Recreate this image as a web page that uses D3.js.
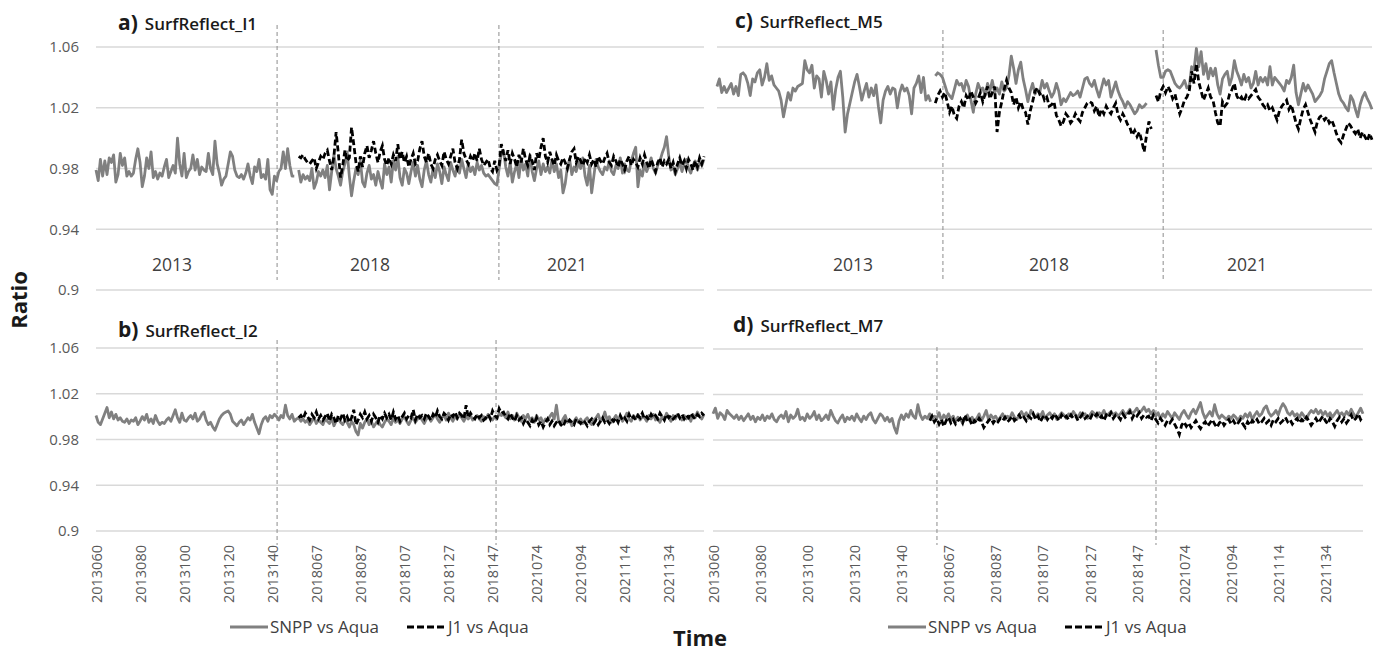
<!DOCTYPE html>
<html>
<head>
<meta charset="utf-8">
<script src="https://d3js.org/d3.v7.min.js"></script>
<style>
body { margin: 0; background: #fff; }
svg { display: block; font-family: "Open Sans", Lato, sans-serif; }
</style>
</head>
<body>
<div id="chart"></div>
<script>
// categories are year + day of year (2013060 ...), one per day in each campaign
var years = [2013, 2018, 2021];
var firstDay = [60, 59, 59];
var lastDay = [151, 151, 150];
var categories = [];
for (var k = 0; k < years.length; k++) {
    for (var day = firstDay[k]; day <= lastDay[k]; day++) {
        categories.push(years[k] + ("00" + day).slice(-3));
    }
}
var yTicks = [0.9, 0.94, 0.98, 1.02, 1.06];
var labelEvery = 20;
var yearLabels = ["2013", "2018", "2021"];
var seriesNames = ["SNPP vs Aqua", "J1 vs Aqua"];

// a) SurfReflect_I1
var a_snpp_2013 = [
0.979, 0.972, 0.986, 0.975, 0.985, 0.976, 0.987, 0.984, 0.989, 0.971,
0.976, 0.990, 0.982, 0.987, 0.975, 0.978, 0.975, 0.977, 0.986, 0.993,
0.984, 0.968, 0.975, 0.987, 0.980, 0.991, 0.974, 0.978, 0.973, 0.977,
0.975, 0.981, 0.986, 0.974, 0.978, 0.982, 0.977, 1.000, 0.983, 0.975,
0.990, 0.974, 0.978, 0.980, 0.989, 0.979, 0.986, 0.976, 0.981, 0.979,
0.978, 0.990, 0.980, 0.976, 0.998, 0.983, 0.977, 0.969, 0.973, 0.975,
0.983, 0.991, 0.988, 0.979, 0.975, 0.974, 0.976, 0.973, 0.977, 0.983,
0.975, 0.970, 0.981, 0.978, 0.986, 0.974, 0.976, 0.973, 0.986, 0.966,
0.963, 0.975, 0.972, 0.978, 0.980, 0.991, 0.980, 0.993, 0.982, 0.975,
0.975, null];
var a_snpp_2018 = [
0.979, 0.971, 0.976, 0.973, 0.975, 0.972, 0.980, 0.967, 0.971, 0.978,
0.975, 0.979, 0.974, 0.982, 0.966, 0.978, 0.989, 0.980, 0.975, 0.969,
0.978, 0.983, 0.991, 0.975, 0.962, 0.972, 0.980, 0.976, 0.985, 0.971,
0.968, 0.977, 0.982, 0.973, 0.976, 0.969, 0.978, 0.972, 0.967, 0.983,
0.976, 0.981, 0.971, 0.985, 0.979, 0.988, 0.974, 0.969, 0.980, 0.977,
0.970, 0.978, 0.984, 0.975, 0.982, 0.973, 0.968, 0.979, 0.985, 0.976,
0.971, 0.980, 0.974, 0.983, 0.978, 0.970, 0.981, 0.976, 0.972, 0.984,
0.979, 0.975, 0.982, 0.977, 0.986, 0.980, 0.974, 0.983, 0.978, 0.981,
0.976, 0.984, 0.979, 0.982, 0.977, 0.975, 0.976, 0.974, 0.972, 0.970,
0.969, 0.980, 0.990];
var a_snpp_2021 = [
0.992, 0.981, 0.975, 0.984, 0.971, 0.978, 0.983, 0.974, 0.987, 0.979,
0.983, 0.975, 0.989, 0.978, 0.972, 0.980, 0.985, 0.976, 0.983, 0.978,
0.981, 0.977, 0.986, 0.978, 0.983, 0.974, 0.979, 0.964, 0.970, 0.981,
0.986, 0.976, 0.981, 0.978, 0.984, 0.980, 0.987, 0.975, 0.969, 0.982,
0.964, 0.975, 0.986, 0.981, 0.978, 0.976, 0.981, 0.979, 0.985, 0.978,
0.976, 0.982, 0.980, 0.987, 0.977, 0.983, 0.979, 0.978, 0.985, 0.990,
0.994, 0.968, 0.979, 0.975, 0.983, 0.978, 0.982, 0.987, 0.980, 0.977,
0.982, 0.985, 0.990, 0.994, 1.001, 0.988, 0.979, 0.981, 0.976, 0.980,
0.984, 0.978, 0.983, 0.986, 0.980, 0.977, 0.982, 0.985, 0.979, 0.984,
0.982, 0.986];
var a_j1_2018 = [
0.988, 0.987, 0.989, 0.986, 0.984, 0.983, 0.985, 0.987, 0.980, 0.984,
0.988, 0.986, 0.990, 0.992, 0.985, 0.979, 0.988, 1.004, 0.990, 0.974,
0.982, 0.992, 0.985, 0.987, 1.007, 0.996, 0.984, 0.978, 0.988, 0.981,
0.990, 0.995, 0.987, 0.992, 0.998, 0.990, 0.984, 0.991, 0.995, 0.986,
0.982, 0.987, 0.983, 0.989, 0.985, 0.996, 0.986, 0.991, 0.984, 0.988,
0.981, 0.986, 0.990, 0.983, 0.985, 0.993, 0.998, 0.988, 0.984, 0.990,
0.983, 0.980, 0.986, 0.989, 0.985, 0.982, 0.991, 0.986, 0.983, 0.988,
0.993, 0.984, 0.980, 0.986, 0.999, 0.990, 0.986, 0.983, 0.988, 0.985,
0.990, 0.985, 0.993, 0.986, 0.982, 0.984, 0.986, 0.980, 0.978, 0.985,
0.979, 0.982, 0.996];
var a_j1_2021 = [
0.990, 0.985, 0.992, 0.983, 0.990, 0.986, 0.981, 0.989, 0.984, 0.993,
0.986, 0.982, 0.988, 0.985, 0.979, 0.990, 0.986, 0.994, 1.000, 0.988,
0.984, 0.991, 0.986, 0.982, 0.989, 0.985, 0.983, 0.987, 0.984, 0.980,
0.986, 0.991, 0.993, 0.984, 0.988, 0.985, 0.982, 0.987, 0.984, 0.989,
0.983, 0.986, 0.981, 0.988, 0.985, 0.983, 0.987, 0.990, 0.984, 0.982,
0.988, 0.985, 0.981, 0.986, 0.983, 0.979, 0.985, 0.988, 0.982, 0.986,
0.984, 0.981, 0.987, 0.983, 0.989, 0.984, 0.980, 0.986, 0.982, 0.978,
0.984, 0.987, 0.981, 0.985, 0.983, 0.986, 0.980, 0.984, 0.978, 0.983,
0.987, 0.982, 0.985, 0.980, 0.986, 0.983, 0.979, 0.985, 0.981, 0.987,
0.983, 0.988];

// b) SurfReflect_I2
var b_snpp_2013 = [
1.001, 0.995, 0.993, 0.998, 1.003, 1.008, 0.999, 1.004, 0.998, 1.002,
0.997, 0.999, 0.996, 0.995, 0.998, 0.994, 0.997, 0.996, 0.999, 0.993,
0.996, 1.000, 0.997, 1.002, 0.995, 0.998, 0.994, 1.001, 0.996, 0.993,
0.995, 0.994, 0.997, 0.999, 0.996, 1.001, 1.006, 0.999, 0.995, 1.003,
0.997, 0.996, 0.999, 1.001, 0.998, 1.003, 0.996, 0.998, 1.002, 1.004,
0.997, 0.993, 0.995, 0.991, 0.988, 0.993, 0.998, 1.001, 1.003, 1.004,
1.005, 1.002, 0.996, 0.994, 0.992, 0.995, 0.997, 0.993, 0.996, 0.999,
0.997, 1.002, 0.995, 0.990, 0.985, 0.993, 0.998, 1.000, 0.996, 1.001,
0.999, 1.002, 1.000, 0.997, 1.001, 0.999, 1.010, 1.001, 0.998, 1.002,
0.996, 0.998];
var b_snpp_2018 = [
0.999, 0.996, 0.998, 0.995, 0.997, 0.993, 0.996, 0.999, 0.994, 0.997,
0.995, 0.993, 0.998, 0.996, 0.994, 0.999, 0.992, 0.996, 0.998, 0.995,
0.993, 0.997, 0.995, 0.991, 0.996, 0.993, 0.987, 0.984, 0.994, 0.990,
0.995, 0.998, 0.993, 0.996, 0.991, 0.994, 0.997, 0.993, 0.991, 0.995,
0.998, 0.996, 0.993, 0.999, 0.995, 0.997, 0.994, 0.998, 1.000, 0.996,
0.993, 0.997, 0.999, 0.995, 0.998, 1.001, 0.997, 0.994, 0.998, 1.000,
0.996, 0.999, 1.002, 0.998, 0.995, 0.999, 1.001, 0.997, 1.003, 0.999,
0.996, 1.000, 0.998, 1.002, 0.999, 0.996, 1.000, 0.998, 1.001, 0.997,
0.999, 1.001, 0.998, 0.996, 1.000, 0.998, 1.002, 0.999, 0.997, 1.000,
0.998, 1.003, 1.001];
var b_snpp_2021 = [
1.002, 0.999, 1.004, 0.998, 1.001, 0.997, 1.003, 0.999, 0.996, 1.001,
0.998, 1.002, 0.997, 0.999, 0.995, 1.001, 0.997, 0.999, 0.994, 0.998,
0.996, 1.000, 1.003, 0.998, 1.010, 0.996, 0.993, 0.998, 1.001, 0.995,
0.997, 0.992, 0.996, 0.999, 0.995, 0.998, 0.994, 0.997, 0.999, 0.995,
0.993, 0.997, 0.999, 1.002, 0.996, 0.998, 1.004, 0.997, 1.000, 0.995,
0.998, 1.001, 0.997, 1.000, 0.996, 0.999, 1.003, 0.998, 0.996, 1.001,
0.998, 1.002, 0.997, 1.000, 0.999, 0.996, 1.001, 0.998, 1.002, 0.997,
0.999, 0.995, 1.000, 0.998, 1.003, 0.999, 0.996, 1.001, 0.998, 1.002,
0.999, 0.997, 1.001, 0.998, 1.000, 0.996, 1.002, 0.999, 1.004, 1.000,
0.998, 1.002];
var b_j1_2018 = [
0.999, 1.001, 0.998, 1.003, 1.000, 0.997, 1.002, 0.999, 1.004, 0.998,
1.001, 0.997, 1.000, 1.003, 0.996, 1.002, 0.999, 0.994, 1.001, 0.998,
1.003, 0.997, 1.000, 0.995, 0.999, 1.006, 0.993, 0.997, 1.002, 0.999,
1.004, 0.998, 1.001, 0.996, 1.002, 0.999, 0.995, 1.001, 0.998, 1.003,
0.999, 1.002, 0.997, 1.004, 0.998, 1.001, 0.996, 1.000, 1.003, 0.998,
1.001, 0.999, 1.006, 0.997, 1.002, 0.999, 1.001, 0.998, 1.003, 1.000,
0.997, 1.002, 0.999, 1.005, 1.000, 0.998, 1.003, 1.001, 0.997, 1.002,
1.000, 1.004, 0.999, 1.003, 1.001, 0.998, 1.010, 0.999, 1.003, 1.000,
0.998, 1.002, 0.999, 1.001, 0.997, 0.999, 1.002, 0.998, 1.005, 1.001,
0.999, 1.007, 1.003];
var b_j1_2021 = [
1.004, 1.000, 0.998, 1.003, 0.999, 0.996, 1.001, 0.997, 0.999, 0.994,
0.998, 0.995, 0.992, 0.997, 0.994, 0.999, 0.993, 0.996, 0.991, 0.995,
0.998, 0.993, 0.996, 0.992, 0.995, 0.997, 0.993, 0.991, 0.996, 0.994,
0.997, 0.995, 0.993, 0.998, 0.996, 0.994, 0.997, 0.995, 0.992, 0.996,
0.998, 0.994, 0.997, 0.993, 0.996, 0.999, 0.995, 0.997, 0.994, 0.998,
0.996, 0.999, 0.995, 1.001, 0.997, 0.999, 0.996, 1.002, 0.998, 1.000,
0.997, 1.001, 0.999, 1.003, 0.998, 1.000, 0.997, 1.002, 0.999, 1.001,
0.998, 1.003, 1.000, 0.997, 1.002, 0.999, 1.001, 0.998, 1.000, 1.003,
0.999, 1.002, 0.998, 1.001, 0.999, 1.003, 1.000, 0.998, 1.002, 1.000,
1.003, 1.001];

// c) SurfReflect_M5
var c_snpp_2013 = [
1.034, 1.039, 1.030, 1.034, 1.030, 1.033, 1.036, 1.029, 1.034, 1.028,
1.042, 1.043, 1.041, 1.036, 1.028, 1.039, 1.037, 1.043, 1.045, 1.035,
1.040, 1.049, 1.038, 1.041, 1.035, 1.033, 1.031, 1.025, 1.014, 1.022,
1.030, 1.025, 1.033, 1.031, 1.034, 1.035, 1.036, 1.051, 1.045, 1.043,
1.048, 1.033, 1.041, 1.039, 1.027, 1.044, 1.038, 1.029, 1.037, 1.019,
1.032, 1.040, 1.044, 1.027, 1.004, 1.016, 1.023, 1.030, 1.037, 1.042,
1.034, 1.025, 1.031, 1.036, 1.027, 1.033, 1.028, 1.035, 1.021, 1.010,
1.025, 1.031, 1.034, 1.029, 1.033, 1.032, 1.020, 1.030, 1.035, 1.031,
1.033, 1.028, 1.016, 1.033, 1.036, 1.041, 1.030, 1.040, 1.025, 1.028,
1.024, null];
var c_snpp_2018 = [
1.041, 1.043, 1.042, 1.040, 1.035, 1.030, 1.028, 1.026, 1.032, 1.038,
1.035, 1.036, 1.031, 1.038, 1.034, 1.025, 1.017, 1.029, 1.036, 1.032,
1.033, 1.028, 1.036, 1.031, 1.038, 1.030, 1.033, 1.029, 1.037, 1.031,
1.033, 1.041, 1.054, 1.046, 1.036, 1.045, 1.050, 1.039, 1.032, 1.024,
1.031, 1.036, 1.029, 1.032, 1.030, 1.038, 1.033, 1.036, 1.031, 1.027,
1.030, 1.036, 1.031, 1.022, 1.026, 1.024, 1.027, 1.030, 1.028, 1.029,
1.031, 1.027, 1.033, 1.039, 1.040, 1.036, 1.034, 1.038, 1.032, 1.027,
1.033, 1.039, 1.035, 1.038, 1.027, 1.032, 1.037, 1.031, 1.027, 1.024,
1.020, 1.024, 1.022, 1.019, 1.016, 1.018, 1.022, 1.020, 1.021, 1.023,
null, null, null];
var c_snpp_2021 = [
1.058, 1.048, 1.040, 1.040, 1.044, 1.045, 1.044, 1.040, 1.036, 1.034,
1.033, 1.035, 1.038, 1.033, 1.034, 1.047, 1.045, 1.059, 1.047, 1.057,
1.042, 1.049, 1.039, 1.046, 1.041, 1.046, 1.035, 1.029, 1.039, 1.042,
1.044, 1.035, 1.040, 1.051, 1.044, 1.040, 1.035, 1.042, 1.037, 1.040,
1.033, 1.036, 1.044, 1.035, 1.040, 1.037, 1.040, 1.035, 1.047, 1.035,
1.040, 1.038, 1.036, 1.034, 1.031, 1.038, 1.036, 1.040, 1.048, 1.030,
1.022, 1.029, 1.036, 1.031, 1.035, 1.032, 1.029, 1.024, 1.026, 1.028,
1.031, 1.039, 1.044, 1.049, 1.051, 1.043, 1.036, 1.029, 1.025, 1.023,
1.020, 1.018, 1.028, 1.025, 1.019, 1.014, 1.022, 1.027, 1.030, 1.026,
1.023, 1.019];
var c_j1_2018 = [
1.023, 1.028, 1.031, 1.027, 1.030, 1.024, 1.017, 1.021, 1.015, 1.013,
1.021, 1.024, 1.020, 1.028, 1.025, 1.031, 1.027, 1.023, 1.026, 1.030,
1.024, 1.029, 1.034, 1.026, 1.030, 1.034, 1.004, 1.017, 1.024, 1.032,
1.038, 1.033, 1.030, 1.022, 1.027, 1.020, 1.024, 1.019, 1.017, 1.009,
1.018, 1.024, 1.031, 1.033, 1.029, 1.030, 1.025, 1.027, 1.021, 1.022,
1.024, 1.015, 1.012, 1.008, 1.011, 1.016, 1.014, 1.010, 1.012, 1.016,
1.013, 1.011, 1.017, 1.020, 1.023, 1.024, 1.023, 1.018, 1.021, 1.014,
1.019, 1.016, 1.021, 1.018, 1.016, 1.020, 1.023, 1.015, 1.012, 1.016,
1.013, 1.009, 1.007, 1.002, 1.005, 1.001, 1.004, 0.998, 0.991, 1.002,
1.011, 1.006, null];
var c_j1_2021 = [
1.028, 1.024, 1.031, 1.034, 1.030, 1.034, 1.031, 1.026, 1.029, 1.022,
1.016, 1.020, 1.025, 1.027, 1.031, 1.044, 1.036, 1.049, 1.037, 1.031,
1.025, 1.029, 1.033, 1.027, 1.025, 1.017, 1.010, 1.008, 1.024, 1.021,
1.023, 1.029, 1.032, 1.036, 1.028, 1.025, 1.027, 1.024, 1.028, 1.026,
1.028, 1.030, 1.032, 1.027, 1.025, 1.022, 1.020, 1.022, 1.018, 1.020,
1.016, 1.012, 1.018, 1.021, 1.023, 1.025, 1.019, 1.022, 1.016, 1.010,
1.006, 1.013, 1.019, 1.022, 1.017, 1.012, 1.008, 1.004, 1.011, 1.014,
1.015, 1.012, 1.014, 1.010, 1.012, 1.008, 1.003, 0.999, 0.997, 1.002,
1.006, 1.010, 1.008, 1.005, 1.003, 1.006, 1.000, 1.004, 1.001, 0.998,
1.003, 0.999];

// d) SurfReflect_M7
var d_snpp_2013 = [
1.003, 1.008, 0.999, 1.004, 1.002, 0.998, 1.006, 1.003, 1.001, 0.999,
1.002, 0.998, 1.001, 0.997, 1.000, 1.003, 0.998, 1.001, 0.996, 1.000,
0.998, 1.002, 0.997, 1.001, 0.999, 1.003, 0.998, 0.996, 1.000, 1.002,
0.999, 1.005, 0.996, 1.002, 0.999, 1.001, 1.007, 0.998, 1.000, 0.997,
1.003, 0.999, 1.001, 1.005, 0.998, 1.002, 0.997, 0.999, 1.002, 0.998,
1.006, 1.001, 0.997, 0.995, 0.999, 1.002, 0.996, 1.000, 0.998, 1.001,
0.997, 1.003, 0.999, 0.996, 1.001, 0.998, 1.002, 1.004, 0.998, 0.995,
0.999, 1.003, 1.001, 0.997, 1.000, 0.996, 0.999, 0.991, 0.986, 0.997,
1.002, 0.998, 1.003, 1.000, 1.006, 1.001, 0.999, 1.011, 1.002, 0.998,
1.001, 0.999];
var d_snpp_2018 = [
1.003, 0.998, 1.001, 0.999, 1.004, 0.997, 1.002, 0.999, 1.003, 0.998,
1.001, 0.996, 1.000, 0.998, 0.995, 0.999, 1.002, 0.997, 1.000, 0.996,
0.999, 1.003, 0.997, 1.001, 1.006, 0.998, 1.002, 0.999, 1.001, 0.997,
1.000, 1.003, 0.998, 1.001, 0.999, 1.004, 1.000, 0.998, 1.002, 1.005,
1.001, 1.004, 0.999, 1.006, 1.002, 1.000, 1.003, 1.001, 1.005, 0.999,
1.002, 1.004, 1.000, 1.003, 0.998, 1.001, 1.004, 1.002, 0.999, 1.003,
1.001, 1.005, 1.002, 1.000, 1.004, 1.001, 1.003, 0.999, 1.002, 1.005,
1.003, 1.000, 1.004, 1.002, 1.006, 1.001, 1.003, 1.005, 1.002, 1.004,
1.001, 1.003, 1.006, 1.002, 1.004, 1.007, 1.003, 1.005, 1.008, 1.004,
1.006, 1.009, 1.005];
var d_snpp_2021 = [
1.007, 1.003, 1.006, 1.001, 1.004, 0.999, 1.003, 1.000, 1.005, 1.002,
0.999, 1.004, 1.001, 0.998, 1.003, 1.006, 1.002, 0.999, 1.004, 1.007,
1.003, 1.008, 1.013, 1.004, 0.999, 1.002, 1.005, 1.001, 1.011, 1.003,
0.999, 1.002, 1.000, 0.998, 1.001, 0.999, 1.002, 1.000, 0.997, 1.001,
0.999, 1.003, 1.000, 1.004, 0.998, 1.002, 1.005, 1.001, 1.003, 1.008,
1.010, 1.004, 1.001, 1.003, 1.006, 1.002, 1.008, 1.012, 1.009, 1.004,
1.002, 1.005, 1.001, 1.003, 1.000, 1.004, 1.001, 0.998, 1.003, 1.006,
1.004, 1.007, 1.003, 1.006, 1.002, 1.005, 1.001, 1.004, 1.000, 1.003,
1.006, 1.002, 1.004, 1.001, 1.005, 1.002, 1.007, 1.003, 1.000, 1.004,
1.008, 1.003];
var d_j1_2018 = [
0.997, 1.001, 0.996, 0.999, 0.994, 0.998, 0.992, 0.997, 1.000, 0.995,
0.998, 0.994, 0.997, 0.999, 0.995, 1.002, 0.996, 0.998, 0.993, 0.997,
0.995, 0.999, 0.996, 0.991, 0.994, 0.997, 0.999, 0.995, 0.998, 0.996,
0.999, 0.997, 1.000, 0.996, 0.998, 1.001, 0.997, 0.999, 1.002, 0.998,
1.000, 0.997, 1.001, 0.999, 1.003, 0.998, 1.001, 0.996, 1.000, 1.002,
0.998, 1.001, 0.999, 1.003, 1.000, 0.997, 1.002, 0.999, 1.001, 0.998,
1.002, 0.999, 1.001, 0.997, 1.000, 1.003, 0.999, 1.001, 0.998, 1.002,
1.000, 1.003, 0.999, 1.001, 0.997, 1.002, 1.000, 1.004, 0.999, 1.002,
1.001, 0.998, 1.003, 1.000, 1.002, 1.005, 0.999, 1.003, 1.001, 1.004,
0.999, 1.002, 1.000];
var d_j1_2021 = [
1.001, 0.997, 1.002, 0.998, 0.995, 0.999, 0.996, 0.993, 0.997, 0.995,
0.998, 0.994, 0.990, 0.985, 0.993, 0.996, 0.992, 0.995, 0.991, 0.994,
0.997, 0.993, 0.990, 0.994, 0.996, 0.992, 0.995, 0.998, 0.994, 0.991,
0.995, 0.997, 0.993, 0.996, 0.998, 0.994, 0.997, 0.993, 0.995, 0.998,
0.994, 0.991, 0.996, 0.993, 0.997, 0.995, 0.998, 0.994, 0.996, 0.999,
0.995, 0.997, 0.993, 0.998, 0.996, 0.999, 0.995, 0.997, 1.000, 0.996,
0.998, 0.994, 0.997, 0.999, 0.995, 0.998, 0.996, 1.000, 0.997, 0.993,
0.996, 0.999, 0.995, 0.998, 1.001, 0.997, 0.994, 0.999, 0.996, 0.992,
0.997, 1.000, 0.996, 0.999, 0.995, 0.998, 1.002, 0.997, 0.999, 1.003,
0.998, 1.001];

// J1 has no 2013 campaign
var noJ1_2013 = a_snpp_2013.map(function() { return null; });

function join(p13, p18, p21) { return [].concat(p13, p18, p21); }

var panels = [
    { letter: "a)", title: "SurfReflect_I1",
      snpp: join(a_snpp_2013, a_snpp_2018, a_snpp_2021),
      j1: join(noJ1_2013, a_j1_2018, a_j1_2021),
      left: 96, right: 704, top: 47, bottom: 290,
      titleX: 118, titleY: 30, dividers: [82.2, 182.9], divTop: 25, divBottom: 280,
      yearAt: [34.5, 124.4, 213.8], yLabels: true, xLabels: false },
    { letter: "b)", title: "SurfReflect_I2",
      snpp: join(b_snpp_2013, b_snpp_2018, b_snpp_2021),
      j1: join(noJ1_2013, b_j1_2018, b_j1_2021),
      left: 96, right: 704, top: 348, bottom: 531,
      titleX: 118, titleY: 337, dividers: [82.2, 181.6], divTop: 340, divBottom: 545,
      yearAt: null, yLabels: true, xLabels: true },
    { letter: "c)", title: "SurfReflect_M5",
      snpp: join(c_snpp_2013, c_snpp_2018, c_snpp_2021),
      j1: join(noJ1_2013, c_j1_2018, c_j1_2021),
      left: 717, right: 1372, top: 47, bottom: 290,
      titleX: 735, titleY: 28, dividers: [95.2, 188.0], divTop: 30, divBottom: 280,
      yearAt: [57.3, 139.9, 223.3], yLabels: false, xLabels: false },
    { letter: "d)", title: "SurfReflect_M7",
      snpp: join(d_snpp_2013, d_snpp_2018, d_snpp_2021),
      j1: join(noJ1_2013, d_j1_2018, d_j1_2021),
      left: 713, right: 1363, top: 349, bottom: 531,
      titleX: 733, titleY: 332, dividers: [95.1, 188.1], divTop: 347, divBottom: 545,
      yearAt: null, yLabels: false, xLabels: true }
];

var width = 1375, height = 652;
var svg = d3.select("#chart").append("svg")
    .attr("width", width)
    .attr("height", height);

svg.append("rect").attr("width", width).attr("height", height).attr("fill", "#fff");

panels.forEach(function(p) {
    var x = d3.scalePoint().domain(categories).range([p.left, p.right]);
    var y = d3.scaleLinear().domain([0.9, 1.06]).range([p.bottom, p.top]);
    // fractional category position -> pixel
    var xAt = function(i) { return p.left + i * x.step(); };
    var g = svg.append("g");

    // gridlines
    g.selectAll(".grid").data(yTicks).enter().append("line")
        .attr("x1", p.left).attr("x2", p.right)
        .attr("y1", function(d) { return y(d); })
        .attr("y2", function(d) { return y(d); })
        .attr("stroke", "#d9d9d9").attr("stroke-width", 1.3);

    if (p.yLabels) {
        var yAxis = d3.axisLeft(y).tickValues(yTicks).tickSize(0).tickPadding(17)
            .tickFormat(function(d) { return d === 0.9 ? "0.9" : d3.format(".2f")(d); });
        g.append("g").attr("transform", "translate(" + p.left + ",0)").call(yAxis)
            .call(function(s) { s.select(".domain").remove(); })
            .selectAll("text")
            .attr("font-family", "'Open Sans', sans-serif")
            .attr("font-size", 15)
            .attr("fill", "#595959");
    }

    if (p.xLabels) {
        var xAxis = d3.axisBottom(x)
            .tickValues(categories.filter(function(c, i) { return i % labelEvery === 0; }))
            .tickSize(0);
        g.append("g").attr("transform", "translate(0," + p.bottom + ")").call(xAxis)
            .call(function(s) { s.select(".domain").remove(); })
            .selectAll("text")
            .attr("font-family", "'Open Sans', sans-serif")
            .attr("font-size", 14.5)
            .attr("fill", "#595959")
            .attr("text-anchor", "end")
            .attr("transform", "rotate(-90)")
            .attr("x", -14)
            .attr("y", 0)
            .attr("dy", "0.36em");
    }

    // campaign separators
    g.selectAll(".div").data(p.dividers).enter().append("line")
        .attr("x1", function(d) { return xAt(d); })
        .attr("x2", function(d) { return xAt(d); })
        .attr("y1", p.divTop).attr("y2", p.divBottom)
        .attr("stroke", "#8c8c8c").attr("stroke-width", 1)
        .attr("stroke-dasharray", "4,3");

    if (p.yearAt) {
        g.selectAll(".year").data(p.yearAt).enter().append("text")
            .attr("x", function(d) { return xAt(d); })
            .attr("y", p.bottom - 19)
            .attr("text-anchor", "middle")
            .attr("font-size", 17.5)
            .attr("fill", "#404040")
            .text(function(d, i) { return yearLabels[i]; });
    }

    var line = d3.line()
        .defined(function(d) { return d != null; })
        .x(function(d, i) { return x(categories[i]); })
        .y(function(d) { return y(d); });

    g.append("path").datum(p.snpp)
        .attr("d", line)
        .attr("fill", "none")
        .attr("stroke", "#808080")
        .attr("stroke-width", 2.8)
        .attr("stroke-linejoin", "round");

    g.append("path").datum(p.j1)
        .attr("d", line)
        .attr("fill", "none")
        .attr("stroke", "#000")
        .attr("stroke-width", 2.8)
        .attr("stroke-dasharray", "6,3");

    var t = g.append("text")
        .attr("x", p.titleX).attr("y", p.titleY)
        .attr("fill", "#1a1a1a");
    t.append("tspan").text(p.letter).attr("font-size", 21).attr("font-weight", 700);
    t.append("tspan").text(p.title).attr("dx", 7).attr("font-size", 17).attr("font-weight", 600);
});

// legends under each column
function legend(x0, y0) {
    var lg = svg.append("g").attr("transform", "translate(" + x0 + "," + y0 + ")");
    lg.append("line").attr("x1", 0).attr("x2", 38).attr("y1", 0).attr("y2", 0)
        .attr("stroke", "#808080").attr("stroke-width", 2.8);
    lg.append("text").attr("x", 40).attr("y", 6).attr("font-size", 17).attr("fill", "#404040")
        .text(seriesNames[0]);
    lg.append("line").attr("x1", 177).attr("x2", 217).attr("y1", 0).attr("y2", 0)
        .attr("stroke", "#000").attr("stroke-width", 2.8).attr("stroke-dasharray", "7,3");
    lg.append("text").attr("x", 218).attr("y", 6).attr("font-size", 17).attr("fill", "#404040")
        .text(seriesNames[1]);
}
legend(230, 627);
legend(888, 627);

// axis titles
svg.append("text")
    .attr("transform", "translate(27,300) rotate(-90)")
    .attr("text-anchor", "middle")
    .attr("font-size", 22).attr("font-weight", 700).attr("fill", "#1a1a1a")
    .text("Ratio");

svg.append("text")
    .attr("x", 700).attr("y", 646)
    .attr("text-anchor", "middle")
    .attr("font-size", 22).attr("font-weight", 700).attr("fill", "#1a1a1a")
    .text("Time");
</script>
</body>
</html>
